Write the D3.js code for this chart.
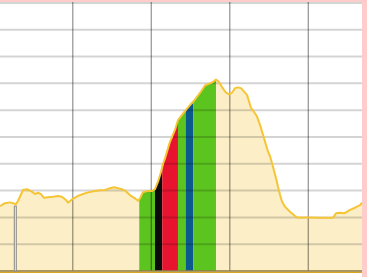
<!DOCTYPE html>
<html>
<head>
  <meta charset="utf-8">
  <script src="https://d3js.org/d3.v7.min.js"></script>
  <style>
    body { margin: 0; background: #ffcccc; }
    svg { display: block; }
  </style>
</head>
<body>
<script>
  // elevation profile, distance in km, elevation in m
  var distKm = [0.73, 1.36, 2.00, 2.38, 2.76, 3.02, 3.27, 3.66, 4.17, 4.80, 5.18, 5.57, 5.95, 6.33, 6.84,
    7.48, 8.11, 8.62, 9.13, 9.39, 9.90, 10.66, 11.30, 12.19, 12.83, 13.47, 14.10, 14.74, 15.25, 15.76,
    16.27, 16.65, 17.03, 17.42, 17.92, 18.31, 18.56, 18.94, 19.45, 20.09, 20.47, 20.86, 21.24, 21.49,
    21.75, 22.38, 23.02, 23.40, 23.91, 24.42, 24.93, 25.44, 26.20, 26.84, 27.48, 27.86, 28.24, 28.63,
    29.01, 29.52, 29.90, 30.28, 30.67, 31.05, 31.43, 31.81, 32.19, 32.45, 32.70, 33.08, 33.47, 33.85,
    34.36, 34.87, 35.12, 35.50, 35.89, 36.14, 36.40, 36.65, 37.03, 37.67, 38.31, 38.56, 40.22, 41.49,
    43.15, 43.53, 44.04, 44.55, 44.93, 45.31, 45.95, 46.59, 46.84];
  var elevM = [242, 253, 256, 253, 249, 261, 277, 302, 305, 296, 287, 292, 287, 273, 275,
    277, 280, 277, 265, 255, 267, 280, 287, 295, 298, 301, 302, 309, 312, 309,
    305, 300, 290, 280, 271, 262, 271, 294, 298, 298, 305, 333, 369, 399,
    420, 482, 526, 563, 582, 601, 619, 635, 664, 692, 700, 705, 714, 705,
    686, 665, 659, 665, 682, 685, 682, 669, 657, 632, 609, 594, 576, 545,
    495, 445, 429, 389, 346, 314, 284, 259, 240, 221, 205, 200, 200, 199,
    199, 215, 217, 215, 221, 228, 236, 246, 255];

  // climb sections
  var bandFrom = [18.47, 20.47, 21.40, 23.40, 24.38, 25.35];
  var bandTo   = [20.47, 21.40, 23.40, 24.38, 25.35, 28.24];
  var bandGrade = ["easy", "steep", "hard", "easy", "medium", "easy"];

  var xTicks = [10, 20, 30, 40];
  var yTicks = d3.range(0, 1001, 100);
  var markerKm = 2.68, markerElev = 242;

  var W = 367, H = 277;
  var gradeColor = d3.scaleOrdinal()
    .domain(["easy", "medium", "hard", "steep"])
    .range(["#5cc41f", "#0b5a8e", "#e8142f", "#0b0b0b"]);

  var x = d3.scaleLinear().domain([0.73, 46.84]).range([0, 362]);
  var y = d3.scaleLinear().domain([0, 1000]).range([271, 2.9]);

  var pts = distKm.map(function(d, i) { return [d, elevM[i]]; });

  var svg = d3.select("body").append("svg")
    .attr("width", W)
    .attr("height", H);

  svg.append("rect")
    .attr("x", 0).attr("y", 2)
    .attr("width", 362).attr("height", H - 2)
    .attr("fill", "#ffffff");

  var area = d3.area()
    .x(function(d) { return x(d[0]); })
    .y0(y(0))
    .y1(function(d) { return y(d[1]); });

  svg.append("clipPath").attr("id", "prof")
    .append("path").attr("d", area(pts));

  svg.append("path")
    .attr("d", area(pts))
    .attr("fill", "#fcefc7");

  svg.append("g").attr("clip-path", "url(#prof)")
    .selectAll("rect")
    .data(bandFrom)
    .enter()
    .append("rect")
      .attr("x", function(d) { return x(d); })
      .attr("width", function(d, i) { return x(bandTo[i]) - x(d); })
      .attr("y", 0)
      .attr("height", y(0))
      .attr("fill", function(d, i) { return gradeColor(bandGrade[i]); });

  // grid
  svg.append("g")
    .selectAll("line")
    .data(yTicks)
    .enter()
    .append("line")
      .attr("x1", 0).attr("x2", 362)
      .attr("y1", function(d) { return y(d); })
      .attr("y2", function(d) { return y(d); })
      .attr("stroke", "rgba(0,0,0,0.17)")
      .attr("stroke-width", 2);

  svg.append("g")
    .selectAll("line")
    .data(xTicks)
    .enter()
    .append("line")
      .attr("x1", function(d) { return x(d); })
      .attr("x2", function(d) { return x(d); })
      .attr("y1", 2).attr("y2", y(0))
      .attr("stroke", "rgba(0,0,0,0.4)")
      .attr("stroke-width", 1.3);

  // profile outline
  svg.append("path")
    .attr("d", d3.line()
      .x(function(d) { return x(d[0]); })
      .y(function(d) { return y(d[1]); })(pts))
    .attr("fill", "none")
    .attr("stroke", "#f5c535")
    .attr("stroke-width", 2)
    .attr("stroke-linejoin", "round");

  // baseline
  svg.append("line")
    .attr("x1", 0).attr("x2", 362)
    .attr("y1", y(0) + 1.5).attr("y2", y(0) + 1.5)
    .attr("stroke", "#d9a624")
    .attr("stroke-width", 1.2);
  svg.append("line")
    .attr("x1", 0).attr("x2", 362)
    .attr("y1", y(0)).attr("y2", y(0))
    .attr("stroke", "#9c8540")
    .attr("stroke-width", 1.5);

  // position marker
  svg.append("rect")
    .attr("x", x(markerKm) - 1)
    .attr("y", y(markerElev))
    .attr("width", 2)
    .attr("height", y(0) - y(markerElev))
    .attr("fill", "#fcefc7")
    .attr("stroke", "#8a8a8a")
    .attr("stroke-width", 1);
</script>
</body>
</html>
